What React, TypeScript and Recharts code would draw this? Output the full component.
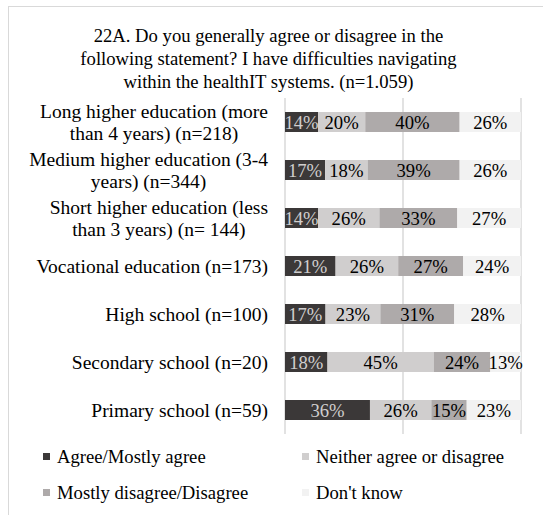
import React from "react";
import { BarChart, Bar, XAxis, YAxis, CartesianGrid, LabelList } from "recharts";

const categories = [
  "Long higher education (more\nthan 4 years) (n=218)",
  "Medium higher education (3-4\nyears) (n=344)",
  "Short higher education (less\nthan 3 years) (n= 144)",
  "Vocational education (n=173)",
  "High school (n=100)",
  "Secondary school (n=20)",
  "Primary school (n=59)",
];
const agree = [14, 17, 14, 21, 17, 18, 36];
const neither = [20, 18, 26, 26, 23, 45, 26];
const disagree = [40, 39, 33, 27, 31, 24, 15];
const dontKnow = [26, 26, 27, 24, 28, 13, 23];

const seriesNames = [
  "Agree/Mostly agree",
  "Neither agree or disagree",
  "Mostly disagree/Disagree",
  "Don't know",
];
const colors = ["#3b3838", "#d0cece", "#aeaaaa", "#f2f2f2"];
const labelColors = ["#d0cece", "#000000", "#000000", "#000000"];
const titleText =
  "22A. Do you generally agree or disagree in the following statement? I have difficulties navigating within the healthIT systems. (n=1.059)";
const titleLines = [
  "22A. Do you generally agree or disagree in the",
  "following statement? I have difficulties navigating",
  "within the healthIT systems. (n=1.059)",
];

const data = categories.map((c, i) => ({
  name: c,
  agree: agree[i],
  neither: neither[i],
  disagree: disagree[i],
  dontKnow: dontKnow[i],
}));
const keys = ["agree", "neither", "disagree", "dontKnow"];

const FONT = "'Times New Roman', 'Liberation Serif', serif";
const FS = 18.67;
const CFS = 19.5;

let ctx: CanvasRenderingContext2D | null = null;
function measure(t: string) {
  if (!ctx) {
    const c = document.createElement("canvas");
    ctx = c.getContext("2d");
  }
  if (!ctx) return t.length * 8;
  ctx.font = `${CFS}px 'Liberation Serif'`;
  return ctx.measureText(t).width;
}

const CatTick = (props: any) => {
  const { x, y, payload } = props;
  const lines = String(payload.value).split("\n");
  if (lines.length === 1) {
    return (
      <text x={x} y={y} dy="0.35em" textAnchor="end" fontFamily={FONT} fontSize={CFS} fill="#000">
        {lines[0]}
      </text>
    );
  }
  const w = Math.max(...lines.map(measure));
  const cx = x - w / 2;
  const lh = 22;
  const y0 = y - ((lines.length - 1) * lh) / 2;
  return (
    <g>
      {lines.map((l, i) => (
        <text key={i} x={cx} y={y0 + i * lh} dy="0.35em" textAnchor="middle" fontFamily={FONT} fontSize={CFS} fill="#000">
          {l}
        </text>
      ))}
    </g>
  );
};

export default function App() {
  return (
    <div style={{ position: "absolute", left: 0, top: 0, width: 543, height: 515, background: "#fff", overflow: "hidden" }}>
      <div
        style={{
          position: "absolute",
          left: 8,
          top: 6,
          width: 560,
          height: 540,
          border: "1px solid #d9d9d9",
          boxSizing: "border-box",
        }}
      />
      <div
        aria-label={titleText}
        style={{
          position: "absolute",
          left: 0,
          top: 24,
          width: 537,
          textAlign: "center",
          fontFamily: FONT,
          fontSize: FS,
          lineHeight: "23px",
          color: "#000",
        }}
      >
        {titleLines.map((l, i) => (
          <div key={i}>{l}</div>
        ))}
      </div>
      <div style={{ position: "absolute", left: 0, top: 0 }}>
        <BarChart
          width={543}
          height={515}
          data={data}
          layout="vertical"
          stackOffset="expand"
          margin={{ top: 98, right: 22, bottom: 81, left: 0 }}
        >
          <CartesianGrid horizontal={false} stroke="#d9d9d9" strokeWidth={1.5} />
          <XAxis type="number" domain={[0, 1]} ticks={[0, 0.5, 1]} hide />
          <YAxis
            type="category"
            dataKey="name"
            width={285}
            axisLine={false}
            tickLine={false}
            tickSize={0}
            tickMargin={17}
            tick={<CatTick />}
            interval={0}
          />
          {keys.map((k, i) => (
            <Bar key={k} dataKey={k} name={seriesNames[i]} stackId="a" fill={colors[i]} barSize={20} isAnimationActive={false}>
              <LabelList
                dataKey={k}
                position="center"
                formatter={(v: any) => `${v}%`}
                fill={labelColors[i]}
                style={{ fontFamily: FONT, fontSize: FS }}
              />
            </Bar>
          ))}
        </BarChart>
      </div>
      {seriesNames.map((n, i) => {
        const col = i % 2;
        const row = Math.floor(i / 2);
        return (
          <div
            key={n}
            style={{
              position: "absolute",
              left: col === 0 ? 43 : 302,
              top: 445 + row * 36,
              display: "flex",
              alignItems: "center",
              fontFamily: FONT,
              fontSize: FS,
              lineHeight: "23px",
              whiteSpace: "nowrap",
              color: "#000",
            }}
          >
            <span style={{ display: "inline-block", width: 7, height: 7, background: colors[i], marginRight: 7 }} />
            {n}
          </div>
        );
      })}
    </div>
  );
}
